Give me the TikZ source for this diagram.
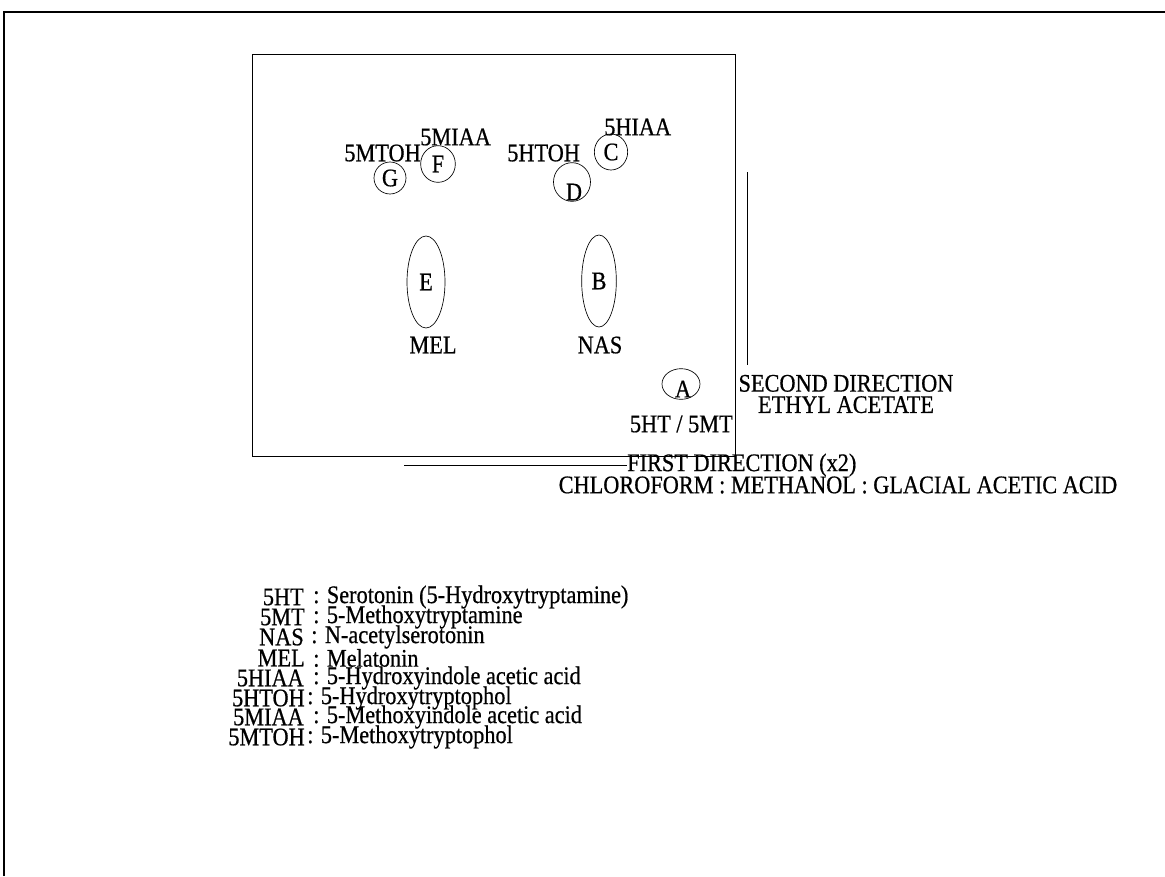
\documentclass[tikz,border=0pt]{standalone}
\usepackage{fontspec}
\setmainfont[FakeStretch=0.88,FakeBold=0.6]{Liberation Serif}
\usetikzlibrary{shapes.geometric}
\begin{document}
\begin{tikzpicture}[x=0.75pt,y=-0.75pt,
  txt/.style={inner sep=0pt, font=\fontsize{19}{16}\selectfont},
  spot/.style={draw, ellipse, inner sep=0pt, line width=0.5pt, font=\fontsize{19}{16}\selectfont},
  thin/.style={line width=0.6pt},
  frame/.style={line width=1.6pt}]
\useasboundingbox (0,0) rectangle (1165,876);
% outer frame
\coordinate (fbl) at (4,876);
\coordinate (ftl) at (4,12);
\coordinate (ftr) at (1165,12);
\draw[frame] (fbl) -- (ftl) -- (ftr);
% plate
\coordinate (p1) at (252,54);
\coordinate (p2) at (735,456);
\draw[thin] (p1) rectangle (p2);
% spots
\node[spot, minimum width=24pt, minimum height=24pt] (G) at (390,178) {G};
\node[spot, minimum width=26pt, minimum height=27.5pt] (F) at (438,164) {F};
\node[spot, minimum width=27.75pt, minimum height=29pt] (D) at (572,182) {};
\node[txt] (Dl) at (574,192) {D};
\node[spot, minimum width=25pt, minimum height=27pt] (C) at (611,152) {C};
\node[spot, minimum width=28.5pt, minimum height=69pt] (E) at (426,282) {E};
\node[spot, minimum width=26pt, minimum height=69pt] (B) at (599,281) {B};
\node[spot, minimum width=28.5pt, minimum height=23pt] (A) at (681,384) {};
\node[txt] (Al) at (683,389) {A};
% spot labels
\node[txt, anchor=east] (lG) at (421,153) {5MTOH};
\node[txt, anchor=west] (lF) at (420,137) {5MIAA};
\node[txt, anchor=west] (lD) at (507,153) {5HTOH};
\node[txt, anchor=west] (lC) at (604,127) {5HIAA};
\node[txt] (lE) at (433,345) {MEL};
\node[txt] (lB) at (600,345) {NAS};
\node[txt, anchor=east] (lA) at (733,424) {5HT / 5MT};
% second direction
\coordinate (s1) at (747,172);
\coordinate (s2) at (747,365);
\draw[thin] (s1) -- (s2);
\node[txt, align=center] (sd) at (846,394) {SECOND DIRECTION\\ETHYL ACETATE};
% first direction
\coordinate (f1) at (404,465);
\node[txt, anchor=west] (fd) at (627,465) {FIRST DIRECTION (x2)};
\draw[thin] (f1) -- (fd.west);
\node[txt] (fs) at (838,485) {CHLOROFORM : METHANOL : GLACIAL ACETIC ACID};
% legend
\node[txt, anchor=east] (a1) at (304,597) {5HT};
\node[txt, anchor=west] (d1) at (313,597) {: Serotonin (5-Hydroxytryptamine)};
\node[txt, anchor=east] (a2) at (305,617) {5MT};
\node[txt, anchor=west] (d2) at (313,617) {: 5-Methoxytryptamine};
\node[txt, anchor=east] (a3) at (304,637) {NAS};
\node[txt, anchor=west] (d3) at (311,637) {: N-acetylserotonin};
\node[txt, anchor=east] (a4) at (305,658) {MEL};
\node[txt, anchor=west] (d4) at (313,658) {: Melatonin};
\node[txt, anchor=east] (a5) at (304,678) {5HIAA};
\node[txt, anchor=west] (d5) at (313,678) {: 5-Hydroxyindole acetic acid};
\node[txt, anchor=east] (a6) at (305,698) {5HTOH};
\node[txt, anchor=west] (d6) at (307,698) {: 5-Hydroxytryptophol};
\node[txt, anchor=east] (a7) at (304,717) {5MIAA};
\node[txt, anchor=west] (d7) at (313,717) {: 5-Methoxyindole acetic acid};
\node[txt, anchor=east] (a8) at (305,737) {5MTOH};
\node[txt, anchor=west] (d8) at (307,737) {: 5-Methoxytryptophol};
\end{tikzpicture}
\end{document}
